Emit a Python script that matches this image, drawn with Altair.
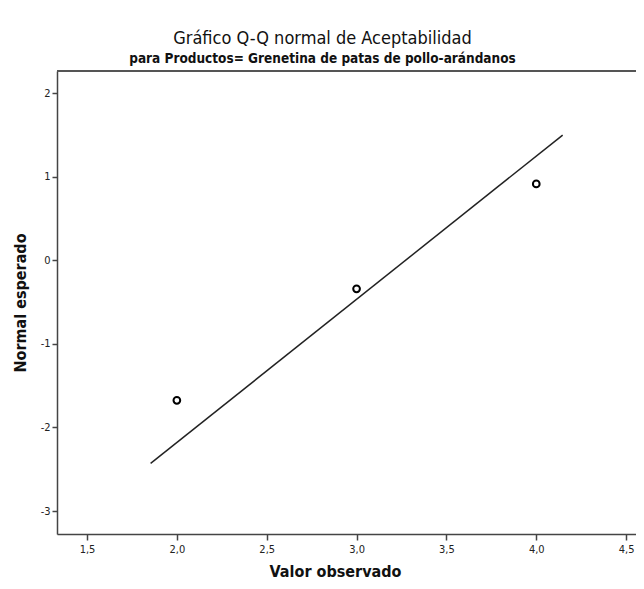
import altair as alt
import pandas as pd

obs_values = [2.0, 3.0, 4.0]
expected_normal = [-1.675, -0.34, 0.915]

# Reference line endpoints
line_x = [1.854, 4.147]
line_y = [-2.43, 1.50]

x_ticks = [1.5, 2.0, 2.5, 3.0, 3.5, 4.0, 4.5]
y_ticks = [-3, -2, -1, 0, 1, 2]

pts = pd.DataFrame({"x": obs_values, "y": expected_normal})
ln = pd.DataFrame({"x": line_x, "y": line_y})

FONT = "DejaVu Sans Condensed, Liberation Sans, sans-serif"
W, H = 579, 463

xscale = alt.Scale(domain=[1.333, 4.555], nice=False, zero=False)
yscale = alt.Scale(domain=[-3.275, 2.267], nice=False, zero=False)

xaxis = alt.Axis(
    values=x_ticks,
    labelExpr="replace(format(datum.value, '.1f'), '.', ',')",
    title="Valor observado",
    titleFont=FONT, titleFontSize=16, titleFontWeight="bold", titleColor="#111",
    titleX=278, titleY=45, titleBaseline="bottom",
    labelFont=FONT, labelFontSize=11, labelColor="#222", labelPadding=3,
    tickSize=6, tickWidth=1.5, tickColor="#444",
    domainColor="#444", domainWidth=1.5, grid=False,
)
yaxis = alt.Axis(
    values=y_ticks,
    labelExpr="datum.value < 0 ? '-' + abs(datum.value) : '' + datum.value",
    title="Normal esperado",
    titleFont=FONT, titleFontSize=16, titleFontWeight="bold", titleColor="#111",
    titleX=-37, titleBaseline="middle",
    labelFont=FONT, labelFontSize=11, labelColor="#222", labelPadding=2,
    tickSize=5, tickWidth=1.5, tickColor="#444",
    domainColor="#444", domainWidth=1.5, grid=False,
)

line = alt.Chart(ln).mark_line(color="#222", strokeWidth=1.5).encode(
    x=alt.X("x:Q", scale=xscale, axis=xaxis),
    y=alt.Y("y:Q", scale=yscale, axis=yaxis),
)

points = alt.Chart(pts).mark_point(
    shape="circle", filled=False, color="#000", strokeWidth=2, size=45, opacity=1
).encode(
    x=alt.X("x:Q", scale=xscale),
    y=alt.Y("y:Q", scale=yscale),
)

top_border = alt.Chart(pts).mark_rule(color="#555", strokeWidth=2).encode(
    x=alt.value(0), x2=alt.value(W), y=alt.value(0)
)

chart = alt.layer(line, points, top_border).properties(
    width=W,
    height=H,
    autosize=alt.AutoSizeParams(type="none"),
    padding={"left": 49, "top": 63, "right": 0, "bottom": 47},
    title=alt.TitleParams(
        text="Gráfico Q-Q normal de Aceptabilidad",
        subtitle="para Productos= Grenetina de patas de pollo-arándanos",
        font=FONT, fontSize=18, fontWeight="normal", color="#111",
        subtitleFont=FONT, subtitleFontSize=13.5, subtitleFontWeight="bold",
        subtitleColor="#111", subtitlePadding=4,
        anchor="middle", dx=-24, offset=5,
    ),
).configure_view(fill="#f0f0f0", stroke=None).configure(background="white")

chart.save("out.html", embed_options={"renderer": "svg", "actions": False})
